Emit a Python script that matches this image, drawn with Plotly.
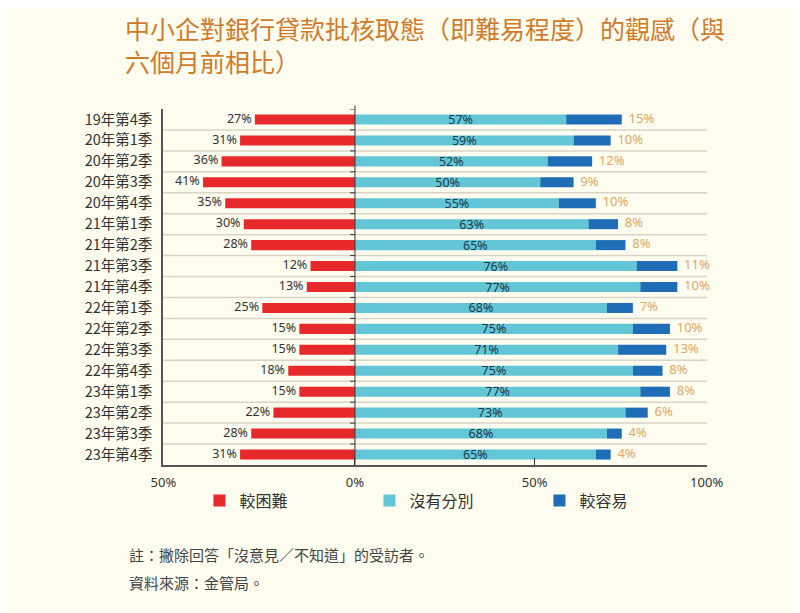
import plotly.graph_objects as go

categories = ["19年第4季", "20年第1季", "20年第2季", "20年第3季", "20年第4季",
              "21年第1季", "21年第2季", "21年第3季", "21年第4季",
              "22年第1季", "22年第2季", "22年第3季", "22年第4季",
              "23年第1季", "23年第2季", "23年第3季", "23年第4季"]
more_difficult = [27, 31, 36, 41, 35, 30, 28, 12, 13, 25, 15, 15, 18, 15, 22, 28, 31]
no_difference = [57, 59, 52, 50, 55, 63, 65, 76, 77, 68, 75, 71, 75, 77, 73, 68, 65]
easier = [15, 10, 12, 9, 10, 8, 8, 11, 10, 7, 10, 13, 8, 8, 6, 4, 4]

# axis tick label positions as drawn in the source chart
tick_vals = [-51.7, 0, 48.5, 94.9]
tick_text = ["50%", "0%", "50%", "100%"]

title_text = "中小企對銀行貸款批核取態（即難易程度）的觀感（與<br>六個月前相比）"
series_names = ["較困難", "沒有分別", "較容易"]
RED, CYAN, BLUE = "#E8292B", "#62C6D6", "#1F6DB6"
BG = "#FEFDF0"
FONT = "Noto Sans CJK TC"
NUMFONT = "Noto Sans"

idx = list(range(len(categories)))

fig = go.Figure()
fig.add_trace(go.Bar(y=idx, x=[-v for v in more_difficult], orientation="h",
                     marker=dict(color=RED, line=dict(width=0)), width=0.48,
                     name=series_names[0], hoverinfo="skip"))
fig.add_trace(go.Bar(y=idx, x=no_difference, orientation="h",
                     marker=dict(color=CYAN, line=dict(width=0)), width=0.48,
                     name=series_names[1],
                     text=[f"{v}%" for v in no_difference], textposition="inside",
                     insidetextanchor="middle", textangle=0, constraintext="none",
                     textfont=dict(color="#1E3A4C", size=12.5, family=NUMFONT),
                     hoverinfo="skip"))
fig.add_trace(go.Bar(y=idx, x=easier, orientation="h",
                     marker=dict(color=BLUE, line=dict(width=0)), width=0.48,
                     name=series_names[2], hoverinfo="skip"))

# labels for red and blue segments
fig.add_trace(go.Scatter(y=idx, x=[-v for v in more_difficult], mode="text",
                         text=[f"{v}% " for v in more_difficult], textposition="middle left",
                         textfont=dict(color="#333333", size=12.5, family=NUMFONT),
                         showlegend=False, hoverinfo="skip", cliponaxis=False))
fig.add_trace(go.Scatter(y=idx, x=[a + b for a, b in zip(no_difference, easier)], mode="text",
                         text=[f"  {v}%" for v in easier], textposition="middle right",
                         textfont=dict(color="#E3A562", size=13, family=NUMFONT),
                         showlegend=False, hoverinfo="skip", cliponaxis=False))

shapes = []
n = len(categories)
# row separators
for i in range(n - 1):
    shapes.append(dict(type="line", xref="paper", x0=0, x1=1, yref="y", y0=i + 0.5, y1=i + 0.5,
                       line=dict(color="#D8D4C6", width=1.5), layer="below"))
# zero line and its small ticks
shapes.append(dict(type="line", xref="x", x0=0, x1=0, yref="paper", y0=0, y1=1.01,
                   line=dict(color="#333333", width=1)))
for i in range(n):
    shapes.append(dict(type="line", xref="x", x0=-1.3, x1=0, yref="y", y0=i - 0.5, y1=i - 0.5,
                       line=dict(color="#333333", width=1)))

PLOT_H = 356
def title_y(px_from_fig_top):
    # convert a pixel offset from the top of the figure into paper units (top margin 101)
    return 1 + (101 - px_from_fig_top) / PLOT_H

fig.update_layout(
    width=792, height=605,
    paper_bgcolor=BG, plot_bgcolor=BG,
    margin=dict(l=155, r=93, t=101, b=148),
    barmode="relative", bargap=0.5,
    font=dict(family=FONT, color="#333333"),
    xaxis=dict(range=[-51.8, 95.0], tickvals=tick_vals, ticktext=tick_text,
               showgrid=False, zeroline=False, showline=True, linecolor="#555555", linewidth=1.5,
               ticks="inside", ticklen=7, tickcolor="#333333",
               tickfont=dict(size=13, color="#333333", family=NUMFONT), ticklabelstandoff=5),
    yaxis=dict(range=[n - 0.5, -0.5], tickvals=idx, ticktext=categories,
               showgrid=False, zeroline=False, showline=True, linecolor="#555555", linewidth=1.5,
               ticks="", tickfont=dict(size=14.5, color="#333333"), ticklabelstandoff=6),
    legend=dict(orientation="h", x=0.067, xanchor="left", y=-0.1, yanchor="middle",
                font=dict(size=16, color="#333333"), bgcolor="rgba(0,0,0,0)",
                entrywidth=125, entrywidthmode="pixels", traceorder="normal"),
    shapes=shapes,
    annotations=[
        dict(text=title_text, xref="paper", yref="paper", x=-0.0735, y=title_y(0),
             xanchor="left", yanchor="top", align="left", showarrow=False,
             font=dict(size=25, color="#D07B2C", family=FONT)),
        dict(text="註：撇除回答「沒意見／不知道」的受訪者。", xref="paper", yref="paper",
             x=-0.066, y=-0.25, xanchor="left", yanchor="middle", showarrow=False,
             font=dict(size=15, color="#444444")),
        dict(text="資料來源：金管局。", xref="paper", yref="paper",
             x=-0.066, y=-0.331, xanchor="left", yanchor="middle", showarrow=False,
             font=dict(size=15, color="#444444")),
    ],
)

fig.write_html("out.html")
